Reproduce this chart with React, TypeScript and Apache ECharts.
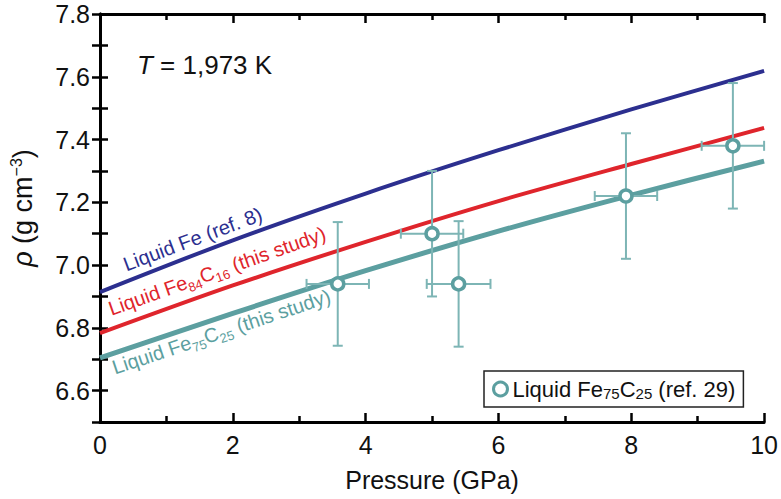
import React, { useEffect, useRef } from "react";
import * as echarts from "echarts";

// Model curves (density vs pressure)
const pressure = [0, 2, 4, 6, 8, 10];
const rhoFe = [6.914, 7.079, 7.228, 7.366, 7.496, 7.619];
const rhoFe84C16 = [6.783, 6.935, 7.074, 7.204, 7.322, 7.437];
const rhoFe75C25 = [6.704, 6.846, 6.982, 7.108, 7.223, 7.331];

// Reference data (ref. 29)
const refP = [3.58, 5.0, 5.4, 7.92, 9.53];
const refRho = [6.94, 7.1, 6.94, 7.22, 7.38];
const refPErr = [0.47, 0.47, 0.48, 0.47, 0.47];
const refRhoErr = [0.197, 0.2, 0.2, 0.2, 0.2];

const FONT = "'Liberation Sans', Arial, Helvetica, sans-serif";
const BLUE = "#2c2f8f";
const RED = "#df252c";
const TEAL = "#5c9fa0";
const ERR = "#7db5b5";

export default function App() {
  const ref = useRef<HTMLDivElement>(null);
  useEffect(() => {
    if (!ref.current) return;
    const chart = echarts.init(ref.current, undefined, { renderer: "svg" });
    const pairs = (ys: number[]) => pressure.map((p, i) => [p, ys[i]]);
    const refRows = refP.map((p, i) => [p, refRho[i], refPErr[i], refRhoErr[i]]);
    const axisCommon = {
      min: 0,
      max: 10,
      interval: 2,
      axisLine: { show: true, lineStyle: { color: "#000", width: 3 } },
      axisTick: { show: true, inside: true, length: 9, lineStyle: { color: "#000", width: 2.5 } },
      minorTick: { show: true, splitNumber: 2, length: 6, lineStyle: { color: "#000", width: 2.5 } },
      splitLine: { show: false },
    };
    const yCommon = {
      min: 6.5,
      max: 7.8,
      interval: 0.1,
      axisLine: { show: true, lineStyle: { color: "#000", width: 3 } },
      axisTick: { show: true, inside: true, length: 8, lineStyle: { color: "#000", width: 2.5 } },
      splitLine: { show: false },
    };
    const labelText = (x: number, y: number, deg: number, text: string, color: string) => ({
      type: "text",
      x,
      y,
      rotation: (deg * Math.PI) / 180,
      z: 50,
      style: {
        text,
        fill: color,
        fontSize: 20,
        fontFamily: FONT,
        lineHeight: 26,
        textAlign: "left",
        textVerticalAlign: "bottom",
        rich: {
          sub: { fontSize: 13, lineHeight: 13, verticalAlign: "bottom", fill: color, fontFamily: FONT },
        },
      },
    });

    chart.setOption({
      animation: false,
      backgroundColor: "#fff",
      grid: { left: 100, right: 14, top: 14, bottom: 77 },
      xAxis: [
        {
          type: "value",
          position: "bottom",
          ...axisCommon,
          name: "Pressure (GPa)",
          nameLocation: "middle",
          nameGap: 45,
          nameTextStyle: { fontSize: 25, color: "#111", fontFamily: FONT },
          axisLabel: { fontSize: 25, color: "#111", margin: 10, fontFamily: FONT },
        },
        {
          type: "value",
          position: "top",
          ...axisCommon,
          axisLabel: { show: false },
        },
      ],
      yAxis: [
        {
          type: "value",
          position: "left",
          ...yCommon,
          name: "{i|ρ} (g cm{sup|−3})",
          nameLocation: "middle",
          nameGap: 62,
          nameTextStyle: {
            fontSize: 27,
            color: "#111",
            fontFamily: FONT,
            lineHeight: 30,
            padding: [0, 0, 0, 20],
            rich: {
              i: { fontSize: 27, fontStyle: "italic", fontFamily: FONT, color: "#111", lineHeight: 30 },
              sup: { fontSize: 16, lineHeight: 15, verticalAlign: "top", fontFamily: FONT, color: "#111" },
            },
          },
          axisLabel: {
            fontSize: 25,
            color: "#111",
            margin: 10,
            fontFamily: FONT,
            formatter: (v: number) => {
              const r = Math.round(v * 10);
              return r % 2 === 0 ? v.toFixed(1) : "";
            },
          },
        },
        {
          type: "value",
          position: "right",
          ...yCommon,
          axisLabel: { show: false },
        },
      ],
      legend: {
        left: 484,
        top: 371,
        orient: "horizontal",
        padding: [6, 8, 6, 8],
        borderColor: "#222",
        borderWidth: 1.5,
        backgroundColor: "#fff",
        itemWidth: 14,
        itemHeight: 14,
        icon: "circle",
        itemStyle: { color: "#fff", borderColor: TEAL, borderWidth: 3 },
        data: ["ref29"],
        formatter: () => "Liquid Fe{sub|75}C{sub|25} (ref. 29)",
        textStyle: {
          fontSize: 22,
          lineHeight: 24,
          color: "#111",
          fontFamily: FONT,
          rich: { sub: { fontSize: 15, lineHeight: 12, verticalAlign: "bottom", fontFamily: FONT, color: "#111" } },
        },
      },
      series: [
        {
          name: "Liquid Fe (ref. 8)",
          type: "line",
          data: pairs(rhoFe),
          smooth: 0.3,
          showSymbol: false,
          lineStyle: { color: BLUE, width: 4 },
          z: 2,
        },
        {
          name: "Liquid Fe84C16 (this study)",
          type: "line",
          data: pairs(rhoFe84C16),
          smooth: 0.3,
          showSymbol: false,
          lineStyle: { color: RED, width: 4 },
          z: 2,
        },
        {
          name: "Liquid Fe75C25 (this study)",
          type: "line",
          data: pairs(rhoFe75C25),
          smooth: 0.3,
          showSymbol: false,
          lineStyle: { color: TEAL, width: 5 },
          z: 2,
        },
        {
          name: "errbars",
          type: "custom",
          data: refRows,
          encode: { x: 0, y: 1 },
          z: 3,
          renderItem: (params: any, api: any) => {
            const x = api.value(0);
            const y = api.value(1);
            const ex = api.value(2);
            const ey = api.value(3);
            const l = api.coord([x - ex, y]);
            const r = api.coord([x + ex, y]);
            const t = api.coord([x, y + ey]);
            const b = api.coord([x, y - ey]);
            const c = 5;
            const style = { stroke: ERR, lineWidth: 2, fill: null };
            const ln = (x1: number, y1: number, x2: number, y2: number) => ({
              type: "line",
              shape: { x1, y1, x2, y2 },
              style,
            });
            return {
              type: "group",
              children: [
                ln(l[0], l[1], r[0], r[1]),
                ln(l[0], l[1] - c, l[0], l[1] + c),
                ln(r[0], r[1] - c, r[0], r[1] + c),
                ln(t[0], t[1], b[0], b[1]),
                ln(t[0] - c, t[1], t[0] + c, t[1]),
                ln(b[0] - c, b[1], b[0] + c, b[1]),
              ],
            };
          },
        },
        {
          name: "ref29",
          type: "scatter",
          data: refRows.map((r) => [r[0], r[1]]),
          symbol: "circle",
          symbolSize: 12,
          itemStyle: { color: "#fff", borderColor: TEAL, borderWidth: 3.5, opacity: 1 },
          z: 4,
        },
      ],
      graphic: [
        {
          type: "text",
          left: 137,
          top: 52,
          z: 50,
          style: {
            text: "{i|T} = 1,973 K",
            fill: "#111",
            fontSize: 26,
            fontFamily: FONT,
            rich: {
              i: { fontSize: 26, fontStyle: "italic", fontFamily: FONT, fill: "#111" },
            },
          },
        },
        labelText(128.5, 277, 20.5, "Liquid Fe (ref. 8)", BLUE),
        labelText(113.4, 321.5, 19.5, "Liquid Fe{sub|84}C{sub|16} (this study)", RED),
        labelText(116.8, 380.3, 18.5, "Liquid Fe{sub|75}C{sub|25} (this study)", TEAL),
      ],
    });
    return () => chart.dispose();
  }, []);
  return (
    <div
      ref={ref}
      style={{ position: "fixed", left: 0, top: 0, width: 781, height: 499, background: "#fff" }}
    />
  );
}
